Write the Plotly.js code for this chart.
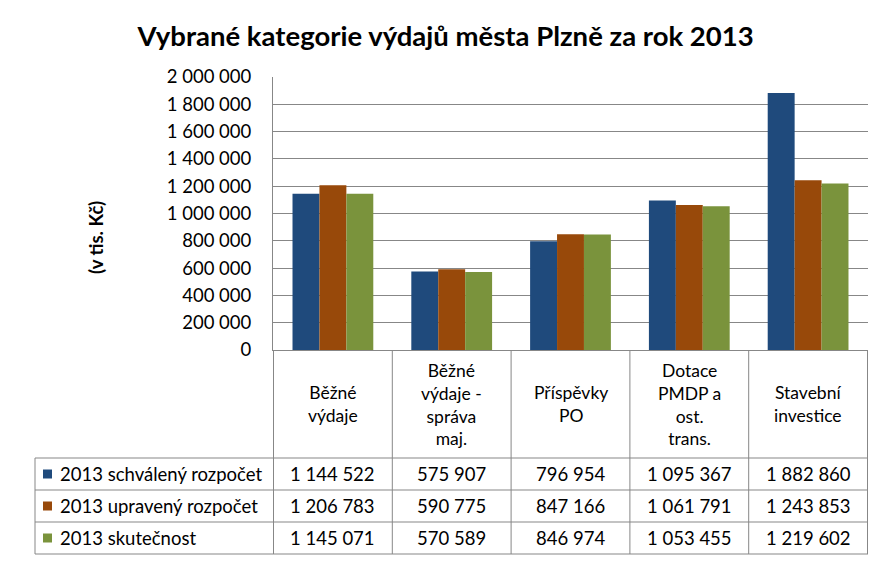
<!DOCTYPE html>
<html>
<head>
<meta charset="utf-8">
<script src="https://cdn.plot.ly/plotly-3.0.1.min.js"></script>
<style>html,body{margin:0;padding:0;background:#fff}#chart{width:891px;height:566px}</style>
</head>
<body>
<div id="chart"></div>
<script>
const categories = ["Běžné výdaje", "Běžné výdaje - správa maj.", "Příspěvky PO", "Dotace PMDP a ost. trans.", "Stavební investice"];
const categoryLabels = ["Běžné<br>výdaje", "Běžné<br>výdaje -<br>správa<br>maj.", "Příspěvky<br>PO", "Dotace<br>PMDP a<br>ost.<br>trans.", "Stavební<br>investice"];
const seriesNames = ["2013 schválený rozpočet", "2013 upravený rozpočet", "2013 skutečnost"];
const schvaleny = [1144522, 575907, 796954, 1095367, 1882860];
const upraveny = [1206783, 590775, 847166, 1061791, 1243853];
const skutecnost = [1145071, 570589, 846974, 1053455, 1219602];
const yTicks = [0, 200000, 400000, 600000, 800000, 1000000, 1200000, 1400000, 1600000, 1800000, 2000000];
const yTitle = "(v tis. Kč)";
const colors = ["#1F4A7C", "#98490A", "#7A933C"];

const FONT = "Lato, 'Open Sans', sans-serif";
const FS = 18.5;
const GRID = "#878787";
const series = [schvaleny, upraveny, skutecnost];

function fmt(v){ return String(v).replace(/\B(?=(\d{3})+(?!\d))/g, " "); }

const traces = series.map((vals, i) => ({
  type: "bar", x: categories, y: vals, name: seriesNames[i],
  marker: {color: colors[i]}, hoverinfo: "skip"
}));

// plot area geometry in px (for paper conversions)
const L = 273, R = 868, T = 77, B = 350;
const W = R - L, H = B - T;
const px2paperX = p => (p - L) / W;
const py2paper = py => (B - py) / H;

const shapes = [];
const annotations = [];
const rowLines = [458, 490, 522, 554];
rowLines.forEach(py => shapes.push({type:"line", xref:"paper", yref:"paper", x0:px2paperX(35), x1:1,
  y0:py2paper(py), y1:py2paper(py), line:{color:GRID, width:1}}));
for (let i = 0; i <= categories.length; i++) {
  shapes.push({type:"line", xref:"x", yref:"paper", x0:i-0.5, x1:i-0.5, y0:0, y1:py2paper(554), line:{color:GRID, width:1}});
}
shapes.push({type:"line", xref:"paper", yref:"paper", x0:px2paperX(35), x1:px2paperX(35),
  y0:py2paper(458), y1:py2paper(554), line:{color:GRID, width:1}});

// y-axis title (placed lower than plot centre, as in the reference)
annotations.push({xref:"paper", yref:"paper", x:px2paperX(96), y:py2paper(238), text:"<b>" + yTitle + "</b>",
  textangle:-90, showarrow:false, xanchor:"center", yanchor:"middle", font:{family:FONT, size:FS, color:"#000"}});

categories.forEach((c, i) => annotations.push({
  xref:"x", yref:"paper", x:c, y:py2paper(404), text:categoryLabels[i], showarrow:false,
  xanchor:"center", yanchor:"middle", align:"center", font:{family:FONT, size:17.5, color:"#000"}
}));
const rowCenters = [474, 506, 538];
series.forEach((vals, r) => {
  shapes.push({type:"rect", xref:"paper", yref:"paper",
    x0:px2paperX(43), x1:px2paperX(52), y0:py2paper(rowCenters[r]+4.5), y1:py2paper(rowCenters[r]-4.5),
    fillcolor:colors[r], line:{width:0}});
  annotations.push({xref:"paper", yref:"paper", x:px2paperX(58), y:py2paper(rowCenters[r]), text:seriesNames[r],
    showarrow:false, xanchor:"left", yanchor:"middle", font:{family:FONT, size:FS, color:"#000"}});
  vals.forEach((v, i) => annotations.push({xref:"x", yref:"paper", x:categories[i], y:py2paper(rowCenters[r]),
    text:fmt(v), showarrow:false, xanchor:"center", yanchor:"middle", font:{family:FONT, size:FS, color:"#000"}}));
});

const layout = {
  width: 891, height: 566,
  margin: {l: L, r: 891 - R, t: T, b: 566 - B},
  paper_bgcolor: "#fff", plot_bgcolor: "#fff",
  separators: ", ",
  title: {text: "<b>Vybrané kategorie výdajů města Plzně za rok 2013</b>", x: 0.5, xref:"container", xanchor:"center",
          y: 0.935, yref:"container", yanchor:"middle",
          font: {family: FONT, size: 27.5, color: "#000"}},
  barmode: "group", bargap: 0.32, bargroupgap: 0,
  showlegend: false,
  xaxis: {showticklabels:false, ticks:"", showgrid:false, showline:true, linecolor:GRID, linewidth:1, zeroline:false, fixedrange:true},
  yaxis: {range:[0, 2000000], tickvals: yTicks, ticktext: yTicks.map(fmt), showgrid:true, gridcolor:GRID, gridwidth:1,
          showline:true, linecolor:GRID, linewidth:1, zeroline:false, ticks:"", ticklabelstandoff: 17,
          tickfont:{family:FONT, size:FS, color:"#000"},
          automargin:false, fixedrange:true},
  shapes: shapes, annotations: annotations
};

Plotly.newPlot("chart", traces, layout, {displayModeBar:false, staticPlot:true});
</script>
</body>
</html>
